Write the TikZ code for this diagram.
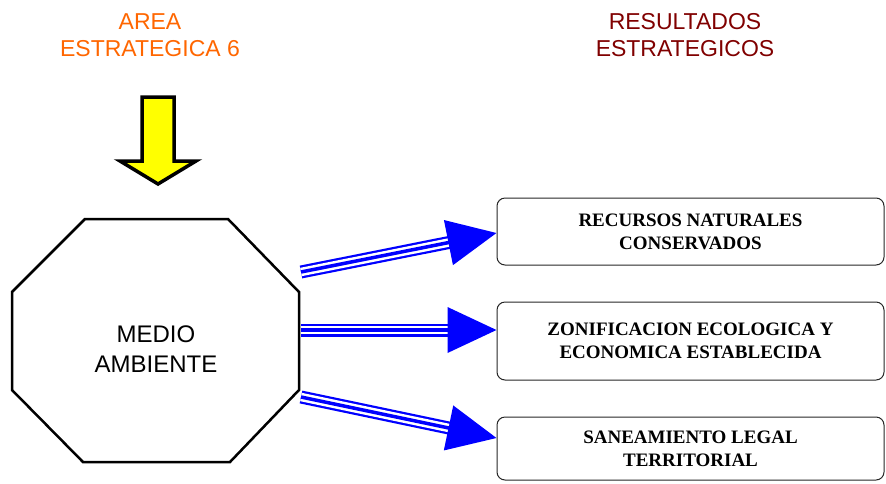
\documentclass[tikz,border=0pt]{standalone}
\usepackage{fontspec}
\setmainfont{Liberation Serif}
\setsansfont{Liberation Sans}
\usetikzlibrary{decorations.markings}
\definecolor{areaorange}{HTML}{FF6600}
\definecolor{resred}{HTML}{800000}
\definecolor{arrblue}{HTML}{0000FF}
\definecolor{arryellow}{HTML}{FFFF00}
\begin{document}
\begin{tikzpicture}[x=1pt, y=-1pt,
  resbox/.style={draw=black!85, line width=1pt, rounded corners=8pt, minimum width=387pt, inner sep=0pt, align=center, font=\fontsize{19}{23}\selectfont\bfseries},
  tittext/.style={inner sep=0pt, align=center, font=\sffamily\fontsize{23}{27}\selectfont},
  triarrow/.style={draw=arrblue, line width=13pt, shorten >=44pt,
    postaction={draw=white, line width=8.5pt, shorten >=44pt},
    postaction={draw=arrblue, line width=3.5pt, shorten >=44pt},
    postaction={decorate, decoration={markings, mark=at position 1 with {\fill[arrblue] (0,0) -- (-49pt,23pt) -- (-49pt,-23pt) -- cycle;}}}}]
\useasboundingbox (0,0) rectangle (886,483);

\node[tittext, text=areaorange] (areatit) at (150,35.5) {AREA\\ESTRATEGICA 6};
\node[tittext, text=resred] (restit) at (685,35.5) {RESULTADOS\\ESTRATEGICOS};

\draw[fill=arryellow, line width=3.5pt, line join=miter] (142,97) -- (174,97) -- (174,161) -- (196,161) -- (158,184) -- (120,161) -- (142,161) -- cycle;

\draw[line width=2.5pt] (85,219) -- (228,219) -- (299,292) -- (299,390) -- (230,462) -- (83,462) -- (12,390) -- (12,292) -- cycle;
\node[inner sep=0pt, align=center, font=\sffamily\fontsize{24}{30}\selectfont] (medio) at (156,349.4) {MEDIO\\AMBIENTE};

\node[resbox, minimum height=67pt] (res1) at (690.5,231.5) {RECURSOS NATURALES\\CONSERVADOS};
\node[resbox, minimum height=78pt] (res2) at (690.5,341) {ZONIFICACION ECOLOGICA Y\\ECONOMICA ESTABLECIDA};
\node[resbox, minimum height=63pt] (res3) at (690.5,448.5) {SANEAMIENTO LEGAL\\TERRITORIAL};

\coordinate (s1) at (301,272);
\coordinate (s2) at (301,330);
\coordinate (s3) at (301,397);
\draw[triarrow] (s1) -- ([yshift=-1.5pt]res1.west);
\draw[triarrow] (s2) -- ([yshift=11pt]res2.west);
\draw[triarrow] (s3) -- ([yshift=10.5pt]res3.west);

\end{tikzpicture}
\end{document}
